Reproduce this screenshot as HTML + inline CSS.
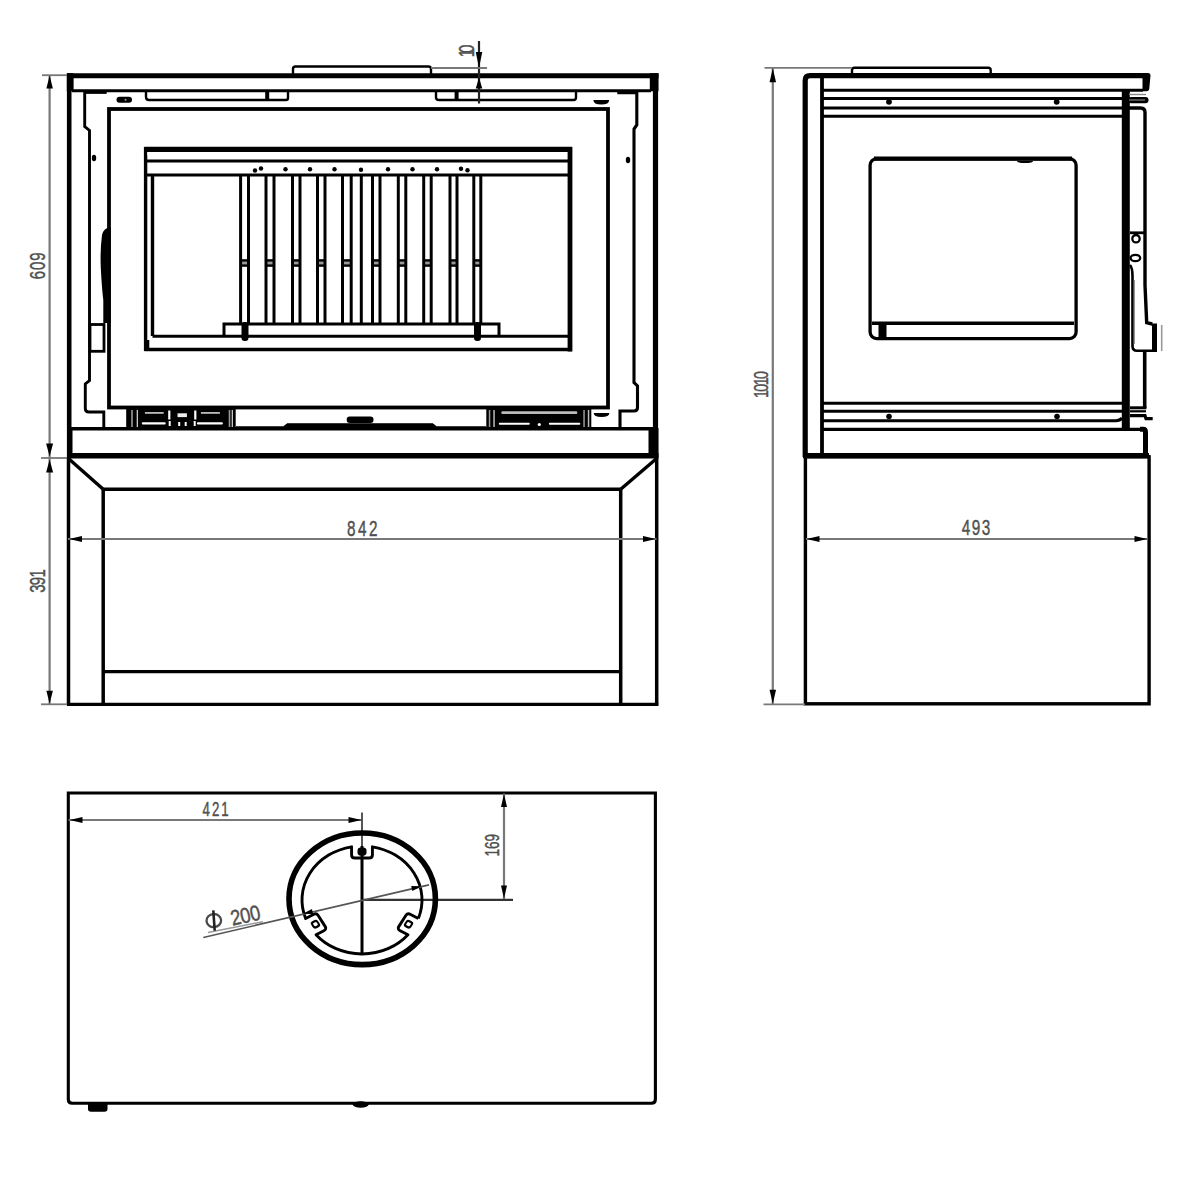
<!DOCTYPE html><html><head><meta charset="utf-8"><style>html,body{margin:0;padding:0;background:#fff;width:1200px;height:1200px;overflow:hidden}svg{display:block}text{font-family:"Liberation Sans",sans-serif}</style></head><body>
<svg width="1200" height="1200" viewBox="0 0 1200 1200">
<rect width="1200" height="1200" fill="#fff"/>
<path d="M293,74 L293,69 Q293,66.5 295.5,66.5 L428.5,66.5 Q431,66.5 431,69 L431,74" stroke="#000" stroke-width="2.4" fill="none" />
<line x1="67" y1="75.7" x2="658.5" y2="75.7" stroke="#000" stroke-width="5" />
<line x1="69.2" y1="73.5" x2="69.2" y2="458" stroke="#000" stroke-width="4.6" />
<line x1="655.5" y1="73.5" x2="655.5" y2="458" stroke="#000" stroke-width="5.2" />
<rect x="66.8" y="73.3" width="6.8" height="18" fill="#000" />
<rect x="649.8" y="73.3" width="8.7" height="18" fill="#000" />
<line x1="72" y1="90.8" x2="651" y2="90.8" stroke="#000" stroke-width="3" />
<path d="M146,91 L146,97 Q146,100 149,100 L286,100 Q288,100 288,98 L288,91" stroke="#000" stroke-width="2.4" fill="none" />
<rect x="265.2" y="91" width="4" height="9.5" fill="#000" />
<path d="M436,91 L436,97.5 Q436,100 439,100 L573.5,100 Q576,100 576,97.5 L576,91" stroke="#000" stroke-width="2.4" fill="none" />
<rect x="454.6" y="91" width="4" height="9.5" fill="#000" />
<path d="M106.5,92 L84.7,92 L84.7,126.5 L89.5,130.5 L89.5,380.5 L85.3,384 L85.3,408.5 Q85.3,412 89,412 L103.8,412 L103.8,428" stroke="#000" stroke-width="2.9" fill="none" />
<line x1="84" y1="92" x2="106.5" y2="92" stroke="#000" stroke-width="3.5" />
<path d="M617.5,92.5 L636.8,92.5 L636.8,125 L634,129 L634,382.5 L637.5,386 L637.5,407.5 Q637.5,411 634,411 L620,411 L620,428" stroke="#000" stroke-width="3.1" fill="none" />
<line x1="617.5" y1="92.5" x2="638" y2="92.5" stroke="#000" stroke-width="3.5" />
<rect x="109" y="109" width="499" height="298.5" fill="none" stroke="#000" stroke-width="3.8"/>
<rect x="116.5" y="96.8" width="15.5" height="6" rx="3" fill="#000"/>
<circle cx="125.5" cy="99.8" r="1" fill="#999"/>
<path d="M593.4,100 L609.2,100 Q609.2,104.5 601.3,104.5 Q593.4,104.5 593.4,100 Z" fill="#000"/>
<ellipse cx="94" cy="158" rx="2.2" ry="3.2" fill="#000"/>
<ellipse cx="628" cy="160" rx="2.2" ry="3.2" fill="#000"/>
<path d="M110.8,323 L110.8,227.5 Q104,227 102,235 Q100,250 100.8,268 Q101.8,288 103.3,300 L103.3,323 Z" stroke="#000" stroke-width="0" fill="#000" />
<rect x="90" y="324.5" width="14" height="26.8" fill="none" stroke="#000" stroke-width="2.8"/>
<line x1="144.5" y1="149.4" x2="572" y2="149.4" stroke="#000" stroke-width="5.4" />
<line x1="146" y1="161" x2="570" y2="161" stroke="#000" stroke-width="3.2" />
<line x1="146" y1="175" x2="570" y2="175" stroke="#000" stroke-width="3" />
<line x1="145.6" y1="147" x2="145.6" y2="351" stroke="#000" stroke-width="3.4" />
<line x1="570" y1="147" x2="570" y2="351.5" stroke="#000" stroke-width="4.8" />
<line x1="144.5" y1="349.5" x2="571.5" y2="349.5" stroke="#000" stroke-width="3.4" />
<line x1="152.5" y1="175" x2="152.5" y2="336" stroke="#000" stroke-width="3.4" />
<line x1="152.5" y1="336.2" x2="568.5" y2="336.2" stroke="#000" stroke-width="2.9" />
<rect x="144.3" y="340" width="5" height="11" fill="#000" />
<path d="M147.3,152.2 L154,152.2 L147.3,155.5 Z" fill="#fff"/>
<path d="M224,335.5 L224,324 L499,324 L499,335.5" stroke="#000" stroke-width="3" fill="none" />
<rect x="241.5" y="322" width="7" height="19" rx="3.2" fill="#000"/>
<rect x="474" y="322" width="7" height="19" rx="3.2" fill="#000"/>
<line x1="240.6" y1="175" x2="240.6" y2="324" stroke="#000" stroke-width="3" />
<line x1="248.5" y1="175" x2="248.5" y2="324" stroke="#000" stroke-width="3" />
<rect x="240.6" y="259.2" width="7.900000000000006" height="7.6" fill="#000" />
<rect x="242.10" y="261.6" width="4.90" height="2.8" fill="#999"/>
<line x1="266" y1="175" x2="266" y2="324" stroke="#000" stroke-width="3" />
<line x1="274" y1="175" x2="274" y2="324" stroke="#000" stroke-width="3" />
<rect x="266" y="259.2" width="8" height="7.6" fill="#000" />
<rect x="267.50" y="261.6" width="5.00" height="2.8" fill="#999"/>
<line x1="292.5" y1="175" x2="292.5" y2="324" stroke="#000" stroke-width="3" />
<line x1="300" y1="175" x2="300" y2="324" stroke="#000" stroke-width="3" />
<rect x="292.5" y="259.2" width="7.5" height="7.6" fill="#000" />
<rect x="294.00" y="261.6" width="4.50" height="2.8" fill="#999"/>
<line x1="317.5" y1="175" x2="317.5" y2="324" stroke="#000" stroke-width="3" />
<line x1="325" y1="175" x2="325" y2="324" stroke="#000" stroke-width="3" />
<rect x="317.5" y="259.2" width="7.5" height="7.6" fill="#000" />
<rect x="319.00" y="261.6" width="4.50" height="2.8" fill="#999"/>
<line x1="342.5" y1="175" x2="342.5" y2="324" stroke="#000" stroke-width="3" />
<line x1="351.2" y1="175" x2="351.2" y2="324" stroke="#000" stroke-width="3" />
<rect x="342.5" y="259.2" width="8.699999999999989" height="7.6" fill="#000" />
<rect x="344.00" y="261.6" width="5.70" height="2.8" fill="#999"/>
<line x1="372.5" y1="175" x2="372.5" y2="324" stroke="#000" stroke-width="3" />
<line x1="380" y1="175" x2="380" y2="324" stroke="#000" stroke-width="3" />
<rect x="372.5" y="259.2" width="7.5" height="7.6" fill="#000" />
<rect x="374.00" y="261.6" width="4.50" height="2.8" fill="#999"/>
<line x1="398.3" y1="175" x2="398.3" y2="324" stroke="#000" stroke-width="3" />
<line x1="405.8" y1="175" x2="405.8" y2="324" stroke="#000" stroke-width="3" />
<rect x="398.3" y="259.2" width="7.5" height="7.6" fill="#000" />
<rect x="399.80" y="261.6" width="4.50" height="2.8" fill="#999"/>
<line x1="423.7" y1="175" x2="423.7" y2="324" stroke="#000" stroke-width="3" />
<line x1="431.2" y1="175" x2="431.2" y2="324" stroke="#000" stroke-width="3" />
<rect x="423.7" y="259.2" width="7.5" height="7.6" fill="#000" />
<rect x="425.20" y="261.6" width="4.50" height="2.8" fill="#999"/>
<line x1="450" y1="175" x2="450" y2="324" stroke="#000" stroke-width="3" />
<line x1="457" y1="175" x2="457" y2="324" stroke="#000" stroke-width="3" />
<rect x="450" y="259.2" width="7" height="7.6" fill="#000" />
<rect x="451.50" y="261.6" width="4.00" height="2.8" fill="#999"/>
<line x1="473.8" y1="175" x2="473.8" y2="324" stroke="#000" stroke-width="3" />
<line x1="480.8" y1="175" x2="480.8" y2="324" stroke="#000" stroke-width="3" />
<rect x="473.8" y="259.2" width="7.0" height="7.6" fill="#000" />
<rect x="475.30" y="261.6" width="4.00" height="2.8" fill="#999"/>
<line x1="361.3" y1="175" x2="361.3" y2="324" stroke="#000" stroke-width="3" />
<circle cx="255" cy="170.5" r="2.2" fill="#000"/>
<circle cx="261" cy="168.5" r="2.2" fill="#000"/>
<circle cx="285.5" cy="169.3" r="2.2" fill="#000"/>
<circle cx="310" cy="169.3" r="2.2" fill="#000"/>
<circle cx="334.5" cy="169.3" r="2.2" fill="#000"/>
<circle cx="361" cy="169.8" r="2.2" fill="#000"/>
<circle cx="388" cy="169.3" r="2.2" fill="#000"/>
<circle cx="412.5" cy="169.3" r="2.2" fill="#000"/>
<circle cx="437" cy="169.3" r="2.2" fill="#000"/>
<circle cx="461" cy="168.8" r="2.2" fill="#000"/>
<circle cx="467.5" cy="170.3" r="2.2" fill="#000"/>
<rect x="126.2" y="408" width="109.49999999999999" height="21" fill="#000" />
<rect x="131.2" y="410" width="1.6" height="17" fill="#999" />
<rect x="136.7" y="410" width="1.2" height="17" fill="#ddd" />
<rect x="144.9" y="412" width="18.8" height="1.8" fill="#bbb"/>
<rect x="141.8" y="422.3" width="23.9" height="2.2" rx="1" fill="#fff"/>
<rect x="168.2" y="410.5" width="2.2" height="9" fill="#fff" />
<rect x="168.7" y="421" width="2" height="5" fill="#fff" />
<rect x="177.5" y="413.3" width="9.4" height="3.8" fill="#eee" />
<rect x="178.2" y="422" width="2" height="4" fill="#fff" />
<rect x="184.7" y="422" width="2" height="4" fill="#fff" />
<rect x="194.2" y="410.5" width="2.2" height="9" fill="#fff" />
<rect x="193.7" y="421" width="2" height="5" fill="#fff" />
<rect x="200.9" y="412" width="19" height="1.8" fill="#bbb"/>
<rect x="196.9" y="422.3" width="26" height="2.2" rx="1" fill="#fff"/>
<rect x="228.7" y="410" width="1.6" height="17" fill="#999" />
<rect x="231.7" y="410" width="1.2" height="17" fill="#ddd" />
<rect x="486.3" y="408" width="104.99999999999994" height="21" fill="#000" />
<rect x="488.8" y="410" width="1.5" height="17" fill="#999" />
<rect x="493.3" y="410" width="1.5" height="17" fill="#bbb" />
<rect x="501.3" y="411.3" width="76" height="2.6" rx="1.2" fill="#bbb"/>
<rect x="498.8" y="422.7" width="31" height="2" rx="1" fill="#fff"/>
<rect x="548.8" y="422.7" width="31.5" height="2" rx="1" fill="#fff"/>
<circle cx="539.3" cy="424.5" r="1.6" fill="#fff"/>
<rect x="583.3" y="410" width="1.5" height="17" fill="#999" />
<rect x="587.8" y="410" width="1.5" height="17" fill="#bbb" />
<path d="M236,427.5 L284,427.5 L287,425 L433,425 L436,427.5 L486,427.5" stroke="#000" stroke-width="2.6" fill="none" />
<rect x="287" y="423.3" width="146" height="4.7" fill="#000" />
<rect x="346.7" y="416.5" width="26.8" height="6.5" rx="3" fill="#000"/>
<path d="M593.7,413 L609.4,413 Q609.4,417 601.5,417 Q593.7,417 593.7,413 Z" fill="#000"/>
<line x1="69" y1="428.7" x2="653" y2="428.7" stroke="#000" stroke-width="3.4" />
<line x1="67" y1="455.8" x2="658.5" y2="455.8" stroke="#000" stroke-width="5.6" />
<rect x="648.5" y="428" width="10" height="29" fill="#000" />
<rect x="67" y="428" width="5.5" height="29" fill="#000" />
<line x1="68.5" y1="457" x2="68.5" y2="705" stroke="#000" stroke-width="3.5" />
<line x1="656.7" y1="457" x2="656.7" y2="705.5" stroke="#000" stroke-width="3.5" />
<line x1="67" y1="704.3" x2="658.3" y2="704.3" stroke="#000" stroke-width="3.3" />
<line x1="69" y1="459" x2="103.2" y2="489.3" stroke="#000" stroke-width="3.4" />
<line x1="656" y1="459" x2="620.7" y2="489.3" stroke="#000" stroke-width="3.4" />
<line x1="103.2" y1="489.3" x2="620.7" y2="489.3" stroke="#000" stroke-width="3.4" />
<line x1="103.2" y1="489.3" x2="103.2" y2="704" stroke="#000" stroke-width="3.5" />
<line x1="620.7" y1="489.3" x2="620.7" y2="704" stroke="#000" stroke-width="3.5" />
<line x1="103.2" y1="671.7" x2="620.7" y2="671.7" stroke="#000" stroke-width="3.2" />
<line x1="49.6" y1="75" x2="49.6" y2="704" stroke="#787878" stroke-width="2.2" />
<line x1="42" y1="75.2" x2="67" y2="75.2" stroke="#787878" stroke-width="1.8" />
<line x1="41" y1="458" x2="67" y2="458" stroke="#787878" stroke-width="1.8" />
<line x1="41" y1="704.3" x2="67" y2="704.3" stroke="#787878" stroke-width="1.8" />
<polygon points="49.60,75.50 46.35,88.50 52.85,88.50" fill="#000"/>
<polygon points="49.60,456.50 46.10,443.50 53.10,443.50" fill="#000"/>
<polygon points="49.60,459.50 46.10,472.50 53.10,472.50" fill="#000"/>
<polygon points="49.60,703.80 46.35,690.80 52.85,690.80" fill="#000"/>
<text x="0" y="0" font-size="22" fill="#505050" stroke="#505050" stroke-width="0.45" text-anchor="middle" textLength="39.71" lengthAdjust="spacing" transform="translate(45.2 265.8) rotate(-90) scale(0.68 1)">609</text>
<text x="0" y="0" font-size="22" fill="#505050" stroke="#505050" stroke-width="0.45" text-anchor="middle" textLength="34.56" lengthAdjust="spacing" transform="translate(45.2 581) rotate(-90) scale(0.68 1)">391</text>
<line x1="68" y1="539" x2="656.5" y2="539" stroke="#787878" stroke-width="2.2" />
<polygon points="69.00,539.00 82.00,536.00 82.00,542.00" fill="#000"/>
<polygon points="656.00,539.00 643.00,536.00 643.00,542.00" fill="#000"/>
<text x="0" y="0" font-size="22.5" fill="#505050" stroke="#505050" stroke-width="0.45" text-anchor="middle" textLength="44.85" lengthAdjust="spacing" transform="translate(362.3 535.6) rotate(0) scale(0.68 1)">842</text>
<line x1="479" y1="41" x2="479" y2="103.5" stroke="#222" stroke-width="2.2" />
<line x1="431" y1="68" x2="487" y2="68" stroke="#787878" stroke-width="1.8" />
<polygon points="479.00,68.00 475.75,52.00 482.25,52.00" fill="#000"/>
<polygon points="479.00,77.50 475.75,88.50 482.25,88.50" fill="#000"/>
<text x="0" y="0" font-size="22" fill="#505050" stroke="#505050" stroke-width="0.45" text-anchor="middle" textLength="18.68" lengthAdjust="spacing" transform="translate(474.3 51) rotate(-90) scale(0.68 1)">10</text>
<path d="M852,74 L852,70.2 Q852,67.7 854.5,67.7 L988.2,67.7 Q990.7,67.7 990.7,70.2 L990.7,74" stroke="#000" stroke-width="2.4" fill="none" />
<line x1="764.5" y1="67.8" x2="852" y2="67.8" stroke="#787878" stroke-width="1.8" />
<path d="M805.2,457 L805.2,80.5 Q805.2,75.7 810,75.7 L1148,75.7" stroke="#000" stroke-width="5.2" fill="none" />
<path d="M1142.5,73 L1148,73 Q1150.5,73 1150.5,75.5 L1149.3,88.5 Q1149,91.3 1146.5,91.3 L1142.5,91.3 Z" fill="#000"/>
<line x1="822" y1="76" x2="822" y2="456" stroke="#000" stroke-width="3.8" />
<line x1="822" y1="90.2" x2="1143" y2="90.2" stroke="#000" stroke-width="3" />
<line x1="822" y1="98.6" x2="1122" y2="98.6" stroke="#000" stroke-width="3" />
<line x1="822" y1="108" x2="1122" y2="108" stroke="#000" stroke-width="3" />
<line x1="822" y1="116.2" x2="1122" y2="116.2" stroke="#000" stroke-width="3" />
<circle cx="889" cy="101.8" r="2.9" fill="#000"/>
<circle cx="1056.7" cy="101.8" r="2.9" fill="#000"/>
<line x1="1125.8" y1="90.5" x2="1125.8" y2="428.5" stroke="#000" stroke-width="8" />
<path d="M1129,108 L1140.5,108 Q1145,108 1145,112.5 L1145,285 L1146.7,322.7 L1152.3,324" stroke="#000" stroke-width="3.4" fill="none" />
<rect x="1128" y="97" width="20.5" height="6.2" rx="3" fill="#000"/>
<line x1="1129" y1="100" x2="1145" y2="100" stroke="#777" stroke-width="1.3" />
<line x1="1129" y1="94.5" x2="1146" y2="94.5" stroke="#888" stroke-width="1.4" />
<circle cx="1136" cy="238.7" r="3.7" fill="none" stroke="#000" stroke-width="2.3"/>
<ellipse cx="1135.4" cy="258" rx="4.8" ry="3.2" fill="none" stroke="#000" stroke-width="2.3"/>
<line x1="1130" y1="232.8" x2="1145" y2="232.8" stroke="#000" stroke-width="2.8" />
<path d="M1130,265 Q1132.5,268 1132.5,276 L1132.5,346 Q1132.5,350.7 1137,350.7 L1155,350.7" stroke="#000" stroke-width="2.6" fill="none" />
<line x1="1134.3" y1="280" x2="1134.3" y2="344" stroke="#888" stroke-width="1.2" />
<rect x="1152" y="323.5" width="5" height="28.5" fill="#000" />
<line x1="1161.7" y1="325" x2="1161.7" y2="351" stroke="#999" stroke-width="1.6" />
<line x1="1144.7" y1="351" x2="1144.7" y2="408" stroke="#000" stroke-width="3.6" />
<line x1="1130" y1="407.8" x2="1146.4" y2="407.8" stroke="#000" stroke-width="3" />
<rect x="870.1" y="158.8" width="206" height="179.8" rx="6.5" fill="none" stroke="#000" stroke-width="3.3"/>
<line x1="874" y1="158.6" x2="1072" y2="158.6" stroke="#000" stroke-width="4.2" />
<path d="M1017,161 L1033,161 Q1033,163 1025,163 Q1017,163 1017,161 Z" fill="#000"/>
<line x1="872" y1="323.3" x2="1074" y2="323.3" stroke="#000" stroke-width="3.4" />
<rect x="878.5" y="323.3" width="8" height="15" fill="#000" />
<line x1="822" y1="403.2" x2="1122" y2="403.2" stroke="#000" stroke-width="3" />
<line x1="822" y1="411.3" x2="1122" y2="411.3" stroke="#000" stroke-width="3" />
<path d="M822,420.7 L1116,420.7 Q1120,420.7 1122,418" stroke="#000" stroke-width="3" fill="none" />
<line x1="822" y1="429.3" x2="1143" y2="429.3" stroke="#000" stroke-width="3.2" />
<circle cx="889" cy="416.5" r="2.8" fill="#000"/>
<circle cx="1057" cy="416.5" r="2.8" fill="#000"/>
<line x1="1130" y1="411.3" x2="1146" y2="411.3" stroke="#000" stroke-width="2.2" />
<path d="M1130,415.7 L1145,415.7 L1146,418.7 L1152.7,418.7" stroke="#000" stroke-width="3.2" fill="none" />
<path d="M1140,429.3 L1143,429.3 Q1145.5,429.3 1145.5,432 L1145.5,456" stroke="#000" stroke-width="5" fill="none" />
<line x1="803" y1="455.7" x2="1149" y2="455.7" stroke="#000" stroke-width="5.2" />
<rect x="805.4" y="456.8" width="343.7" height="247" fill="none" stroke="#000" stroke-width="3.4"/>
<line x1="772.8" y1="68" x2="772.8" y2="704.3" stroke="#787878" stroke-width="2.2" />
<line x1="763.5" y1="704.3" x2="805" y2="704.3" stroke="#787878" stroke-width="1.8" />
<polygon points="772.80,68.20 769.55,82.20 776.05,82.20" fill="#000"/>
<polygon points="772.80,703.80 769.55,689.80 776.05,689.80" fill="#000"/>
<text x="0" y="0" font-size="21" fill="#505050" stroke="#505050" stroke-width="0.45" text-anchor="middle" textLength="39.71" lengthAdjust="spacing" transform="translate(768 384.5) rotate(-90) scale(0.68 1)">1010</text>
<line x1="806" y1="539" x2="1147" y2="539" stroke="#787878" stroke-width="2.2" />
<polygon points="806.50,539.00 819.50,536.00 819.50,542.00" fill="#000"/>
<polygon points="1147.50,539.00 1134.50,536.00 1134.50,542.00" fill="#000"/>
<text x="0" y="0" font-size="22.5" fill="#505050" stroke="#505050" stroke-width="0.45" text-anchor="middle" textLength="41.91" lengthAdjust="spacing" transform="translate(976 534.8) rotate(0) scale(0.68 1)">493</text>
<path d="M68.3,793 L655.4,793 L655.4,1099.3 Q655.4,1103.3 651.4,1103.3 L72.3,1103.3 Q68.3,1103.3 68.3,1099.3 Z" stroke="#000" stroke-width="3.1" fill="none" />
<path d="M88,1103 L107.5,1103 L107.5,1109 Q107.5,1111.7 104.5,1111.7 L91,1111.7 Q88,1111.7 88,1109 Z" fill="#000"/>
<ellipse cx="360.7" cy="1104.5" rx="8" ry="3.3" fill="#000"/>
<line x1="68.5" y1="820" x2="362" y2="820" stroke="#787878" stroke-width="2.2" />
<polygon points="69.50,820.00 82.50,817.00 82.50,823.00" fill="#000"/>
<polygon points="361.50,820.00 348.50,817.00 348.50,823.00" fill="#000"/>
<text x="0" y="0" font-size="19.5" fill="#505050" stroke="#505050" stroke-width="0.45" text-anchor="middle" textLength="38.53" lengthAdjust="spacing" transform="translate(215.6 816.2) rotate(0) scale(0.68 1)">421</text>
<line x1="504" y1="793.5" x2="504" y2="899" stroke="#787878" stroke-width="2.2" />
<polygon points="504.00,794.00 501.00,807.00 507.00,807.00" fill="#000"/>
<polygon points="504.00,898.50 501.00,885.50 507.00,885.50" fill="#000"/>
<line x1="362" y1="899.8" x2="513" y2="899.8" stroke="#333" stroke-width="2.2" />
<text x="0" y="0" font-size="20" fill="#505050" stroke="#505050" stroke-width="0.45" text-anchor="middle" textLength="33.09" lengthAdjust="spacing" transform="translate(499.3 845.3) rotate(-90) scale(0.68 1)">169</text>
<line x1="362" y1="812.5" x2="362" y2="846" stroke="#444" stroke-width="1.8" />
<line x1="362" y1="846" x2="362" y2="954" stroke="#000" stroke-width="3" />
<ellipse cx="362.2" cy="898.8" rx="73.2" ry="65.8" fill="none" stroke="#000" stroke-width="5.6"/>
<g transform="translate(362,900) scale(1,0.9)">
<path d="M56.38,20.52 L48.59,16.02 Q45.56,14.27 43.81,17.30 L36.89,29.29 Q35.14,32.32 38.17,34.07 L45.96,38.57 A60.0,60.0 0 0 1 -45.96,38.57 L-38.17,34.07 Q-35.14,32.32 -36.89,29.29 L-43.81,17.30 Q-45.56,14.27 -48.59,16.02 L-56.38,20.52 A60.0,60.0 0 0 1 -10.42,-59.09 L-10.42,-50.09 Q-10.42,-46.59 -6.92,-46.59 L6.92,-46.59 Q10.42,-46.59 10.42,-50.09 L10.42,-59.09 A60.0,60.0 0 0 1 56.38,20.52" fill="none" stroke="#000" stroke-width="2.9" stroke-linejoin="round" vector-effect="non-scaling-stroke"/>
<rect x="42.05" y="22.87" width="9" height="8" rx="3" fill="#000" transform="rotate(120.0 46.55 26.87)"/>
<rect x="44.55" y="24.87" width="4" height="4" rx="1" fill="#fff" transform="rotate(120.0 46.55 26.87)"/>
<rect x="-51.05" y="22.87" width="9" height="8" rx="3" fill="#000" transform="rotate(240.0 -46.55 26.87)"/>
<rect x="-48.55" y="24.87" width="4" height="4" rx="1" fill="#fff" transform="rotate(240.0 -46.55 26.87)"/>
<rect x="-4.50" y="-58.25" width="9" height="9" rx="3.5" fill="#000" transform="rotate(360.0 -0.00 -53.75)"/>
</g>
<line x1="203.3" y1="937.5" x2="429" y2="884.9" stroke="#555" stroke-width="1.6" />
<line x1="208" y1="932.5" x2="263" y2="921.7" stroke="#999" stroke-width="1.4" />
<polygon points="302.80,913.80 311.97,909.10 313.11,913.97" fill="#000"/>
<polygon points="421.50,886.20 412.33,890.90 411.19,886.03" fill="#000"/>
<g transform="rotate(-4 214 920.5)"><ellipse cx="213.8" cy="920.6" rx="7.3" ry="6.6" fill="none" stroke="#4a4a4a" stroke-width="2.3"/><line x1="214" y1="910.4" x2="214" y2="930.8" stroke="#222" stroke-width="2.6"/></g>
<text x="0" y="0" font-size="21.5" fill="#505050" stroke="#505050" stroke-width="0.45" text-anchor="middle" textLength="35.29" lengthAdjust="spacing" transform="translate(247 922.5) rotate(-13) scale(0.85 1)">200</text>
</svg></body></html>
